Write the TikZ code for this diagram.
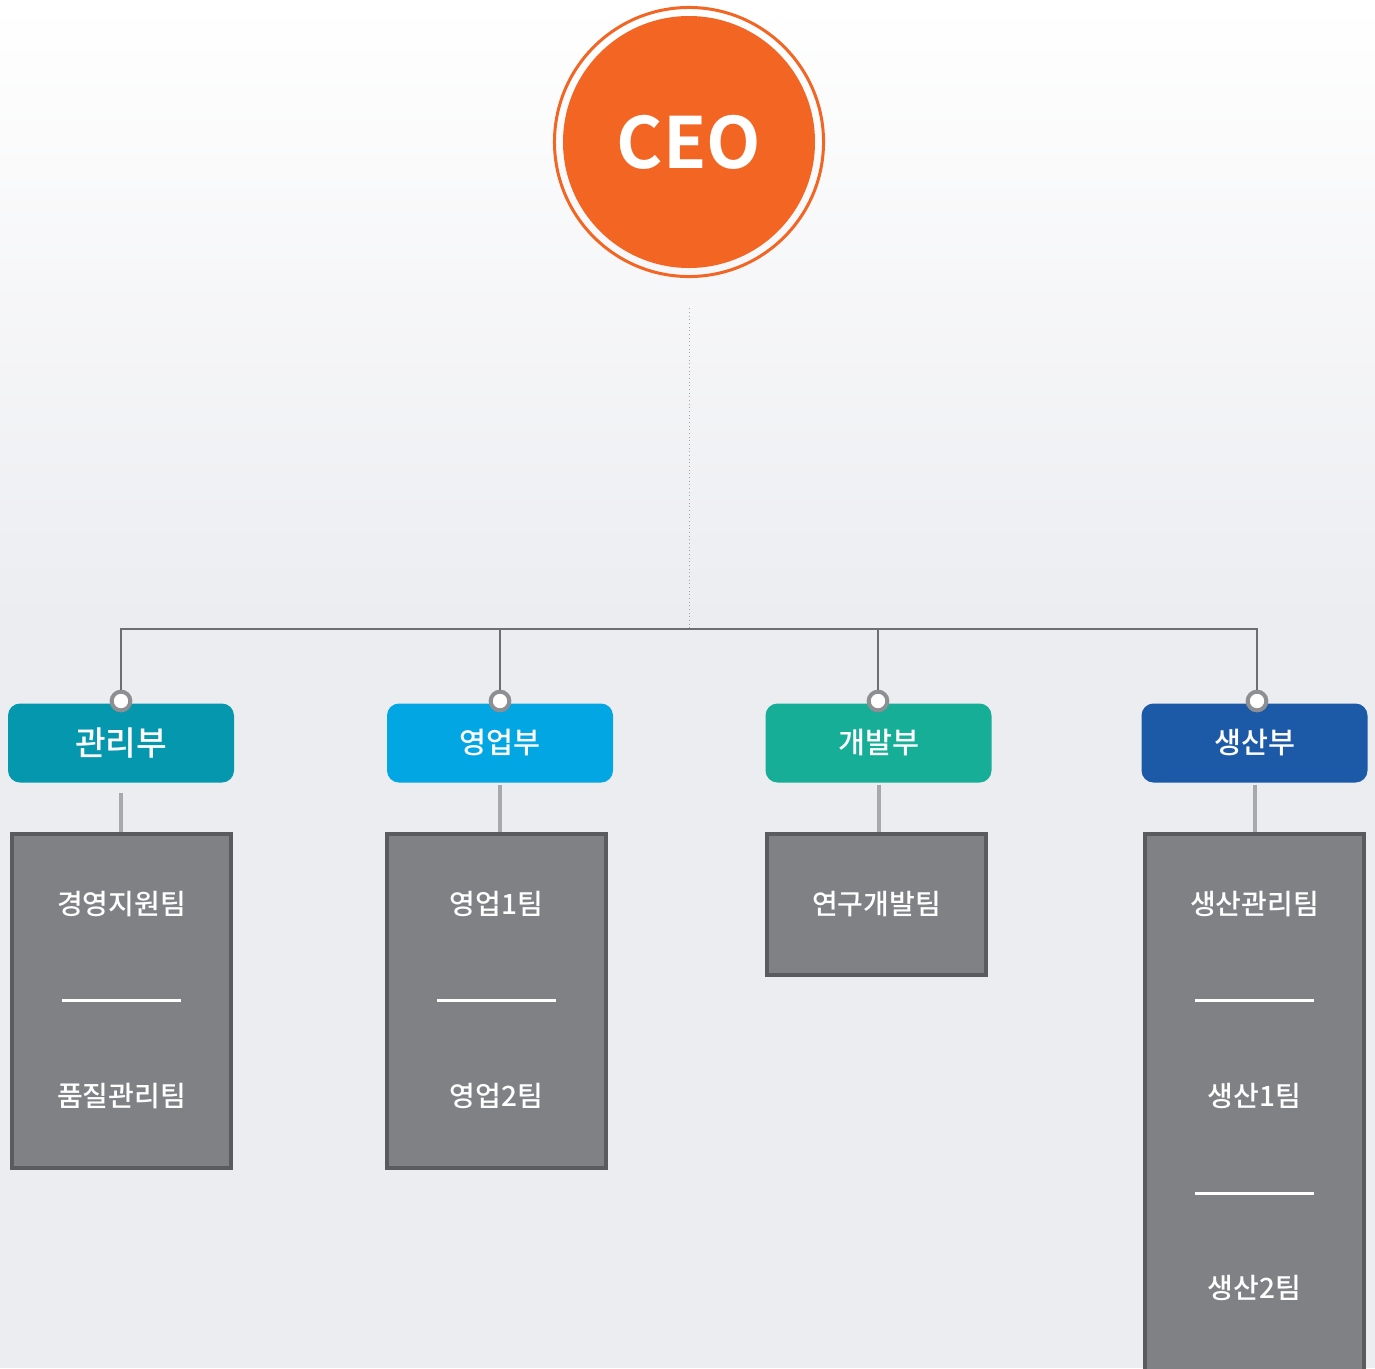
\documentclass[tikz,border=0pt]{standalone}
\usepackage{fontspec}
\newfontfamily\krfont{Noto Sans CJK KR}[UprightFont=* Medium, BoldFont=* Bold]
\usepackage{tikz}
\usetikzlibrary{positioning}
\definecolor{ceoorange}{HTML}{F26522}
\definecolor{bgtop}{HTML}{FFFFFF}
\definecolor{bgbottom}{HTML}{ECEDF1}
\definecolor{gwanricol}{HTML}{0497AE}
\definecolor{yeongeopcol}{HTML}{02A6E3}
\definecolor{gaebalcol}{HTML}{17AE97}
\definecolor{saengsancol}{HTML}{1C5AA8}
\definecolor{teamgray}{HTML}{808185}
\definecolor{teamedge}{HTML}{5A5B5E}
\definecolor{busgray}{HTML}{6D6E71}
\definecolor{stemgray}{HTML}{A8A9AD}
\definecolor{jointgray}{HTML}{8E8F92}
\definecolor{dotgray}{HTML}{A4A5A8}
\tikzstyle{ceocircle} = [circle, fill=ceoorange, minimum size=189pt, inner sep=0pt,
    text=white, font=\krfont\bfseries\fontsize{53pt}{55pt}\selectfont]
\tikzstyle{deptbox} = [rectangle, rounded corners=9pt, minimum width=169.5pt,
    minimum height=59.25pt, text=white, font=\krfont\fontsize{22pt}{24pt}\selectfont]
\tikzstyle{teambox} = [rectangle, draw=teamedge, line width=3pt, fill=teamgray,
    minimum width=164.25pt, inner sep=0pt]
\tikzstyle{teamtext} = [text=white, font=\krfont\fontsize{21pt}{23pt}\selectfont]
\tikzstyle{joint} = [circle, draw=jointgray, line width=3pt, fill=white,
    minimum size=14pt, inner sep=0pt]
\tikzstyle{bus} = [draw=busgray, line width=1.5pt]
\tikzstyle{stem} = [draw=stemgray, line width=3pt]
\tikzstyle{divider} = [draw=white, line width=2.25pt]
\begin{document}
\begin{tikzpicture}[x=0.75pt, y=-0.75pt]
    \useasboundingbox (0,0) rectangle (1375,1368);
    \clip (0,0) rectangle (1375,1368);
    \shade[top color=bgtop, bottom color=bgbottom] (0,0) rectangle (1375,620);
    \fill[bgbottom] (0,619) rectangle (1375,1368);

    \node[ceocircle] (ceo) at (689,142) {CEO};
    \draw[ceoorange, line width=2.25pt] (ceo.center) circle [radius=100.9pt];
    \coordinate (bus) at (689,629);
    \draw[dotgray, line width=0.75pt, dotted, shorten <=30pt] (ceo) -- (bus);

    \node[deptbox, fill=gwanricol, font=\krfont\fontsize{25pt}{27pt}\selectfont] (gwanri) at (121,743) {관리부};
    \node[deptbox, fill=yeongeopcol] (yeongeop) at (500,743) {영업부};
    \node[deptbox, fill=gaebalcol] (gaebal) at (878.5,743) {개발부};
    \node[deptbox, fill=saengsancol] (saengsan) at (1254.5,743) {생산부};

    \node[joint] (jgwanri) at (121,701) {};
    \node[joint] (jyeongeop) at (500,701) {};
    \node[joint] (jgaebal) at (878,701) {};
    \node[joint] (jsaengsan) at (1257,701) {};
    \draw[bus] (jgwanri) -- (jgwanri |- bus) -- (jsaengsan |- bus) -- (jsaengsan);
    \draw[bus] (jyeongeop) -- (jyeongeop |- bus);
    \draw[bus] (jgaebal) -- (jgaebal |- bus);

    \node[teambox, minimum height=250.5pt] (tgwanri) at (121.5,1001) {};
    \node[teambox, minimum height=250.5pt] (tyeongeop) at (496.5,1001) {};
    \node[teambox, minimum height=105.75pt] (tgaebal) at (876.5,904.5) {};
    \node[teambox, minimum height=447pt] (tsaengsan) at (1254.5,1132) {};

    \draw[stem, shorten <=7.5pt] (gwanri.south) -- (gwanri.south |- tgwanri.north);
    \draw[stem, shorten <=1.5pt] (yeongeop.south) -- (yeongeop.south |- tyeongeop.north);
    \draw[stem, shorten <=1.5pt] (gaebal.south) -- (gaebal.south |- tgaebal.north);
    \draw[stem, shorten <=1.5pt] (saengsan.south) -- (saengsan.south |- tsaengsan.north);

    \node[teamtext] (gyeongyeong) at (121.5,904) {경영지원팀};
    \node[teamtext] (pumjil) at (121.5,1096) {품질관리팀};
    \draw[divider] (62,1000) -- (181,1000);
    \node[teamtext] (yeongeop1) at (496.5,904) {영업1팀};
    \node[teamtext] (yeongeop2) at (496.5,1096) {영업2팀};
    \draw[divider] (437,1000) -- (556,1000);
    \node[teamtext] (yeongu) at (876.5,904) {연구개발팀};
    \node[teamtext] (saengsangwanri) at (1254.5,904) {생산관리팀};
    \node[teamtext] (saengsan1) at (1254.5,1096) {생산1팀};
    \node[teamtext] (saengsan2) at (1254.5,1288) {생산2팀};
    \draw[divider] (1195,1000) -- (1314,1000);
    \draw[divider] (1195,1193) -- (1314,1193);
\end{tikzpicture}
\end{document}
